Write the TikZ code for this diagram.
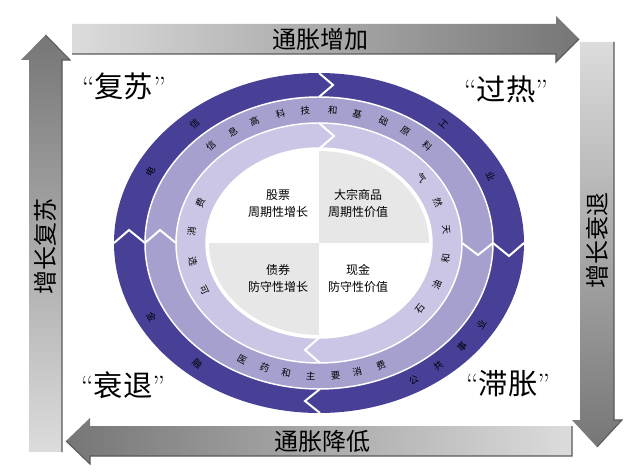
\documentclass[tikz,border=0pt]{standalone}
\usepackage{fontspec}
\newfontfamily\cjk{Noto Sans CJK SC}
\usepackage{tikz}

\definecolor{ringdark}{RGB}{72,64,150}
\definecolor{ringmid}{RGB}{166,160,207}
\definecolor{ringlight}{RGB}{203,198,229}
\definecolor{quadgray}{RGB}{231,231,231}
\definecolor{barlight}{RGB}{220,220,220}
\definecolor{bardark}{RGB}{118,118,118}

\newcommand{\phaselabel}[1]{{\rmfamily “}#1{\rmfamily ”}}

\begin{document}
\begin{tikzpicture}[x=0.75pt,y=0.75pt,yscale=-1,xscale=1,
  ringchar/.style={inner sep=0pt,font=\cjk\fontsize{7}{7}\selectfont},
  quadtext/.style={align=center,inner sep=0.75pt,font=\cjk\fontsize{9}{12.75}\selectfont},
  phasetext/.style={inner sep=0.75pt,font=\cjk\fontsize{22}{22}\selectfont},
  bartext/.style={inner sep=0.75pt,font=\cjk\fontsize{18}{18}\selectfont},
  ringsep/.style={draw=white,line width=1.1pt},
  chevron/.style={draw=white,line width=1.5pt},
  barshadow/.style={draw=black!65,line width=0.8pt}]
\useasboundingbox (0,0) rectangle (636,474);

%Shape: Arrow (top)
\shade [left color=barlight,right color=bardark] (72,24) -- (556,24) -- (556,16) -- (579,39) -- (556,62) -- (556,54) -- (72,54) -- cycle ;
\draw [barshadow] (72,54) -- (556,54) -- (556,62) -- (579,39) ;
%Shape: Arrow (right)
\shade [top color=barlight,bottom color=bardark] (580,42) -- (614,42) -- (614,420) -- (622,420) -- (597,447) -- (572,420) -- (580,420) -- cycle ;
\draw [barshadow] (614,42) -- (614,420) -- (622,420) -- (597,447) ;
%Shape: Arrow (bottom)
\shade [left color=bardark,right color=barlight] (572,426) -- (572,456) -- (90,456) -- (90,464) -- (66,441) -- (90,418) -- (90,426) -- cycle ;
\draw [barshadow] (66,441) -- (90,464) -- (90,456) -- (572,456) -- (572,426) ;
%Shape: Arrow (left)
\shade [top color=bardark,bottom color=barlight] (29,452) -- (29,60) -- (21,60) -- (45.5,35) -- (70,60) -- (62,60) -- (62,452) -- cycle ;
\draw [barshadow] (45.5,35) -- (70,60) -- (62,60) -- (62,452) ;

%Shape: Ellipse rings
\fill [ringdark] (319,243) ellipse [x radius=205, y radius=170] ;
\filldraw [ringsep,fill=ringmid] (319,243) ellipse [x radius=174, y radius=146] ;
\filldraw [ringsep,fill=ringlight] (319,243) ellipse [x radius=143, y radius=120] ;
\filldraw [ringsep,fill=white] (319,243) ellipse [x radius=113, y radius=95] ;
%Shape: Quadrants
\begin{scope}
\clip (319,243) ellipse [x radius=110, y radius=92] ;
\fill [quadgray] (319,243) rectangle (440,140) ;
\fill [quadgray] (319,243) rectangle (200,350) ;
\end{scope}

%Straight Lines: chevrons
\draw [chevron] (319,73) -- (333,85) -- (319,97) ;
\draw [chevron] (319,123) -- (334,136) -- (319,149) ;
\draw [chevron] (493,243) -- (509,256) -- (524,243) ;
\draw [chevron] (462,243) -- (478,255) -- (493,243) ;
\draw [chevron] (320,389) -- (305,401) -- (320,413) ;
\draw [chevron] (320,337) -- (305,350) -- (320,363) ;
\draw [chevron] (114,243) -- (129,230) -- (145,243) ;
\draw [chevron] (145,243) -- (160,230) -- (176,243) ;

% Text Node: outer ring
\foreach \ch/\t in {电/153,信/131,工/49,业/25,公/300,共/309,事/319,业/329,金/208,融/230}
  \draw ({319+189.5*cos(\t)},{243-158*sin(\t)}) node (outer-\t) [ringchar,rotate={mod(\t,180)-90}] {\ch} ;
% Text Node: middle ring
\foreach \ch/\t in {信/133,息/123,高/114,科/104,技/95,和/85,基/76,础/66,原/57,料/47,医/241,药/250,和/258,主/267,要/276,消/284,费/293}
  \draw ({319+158.5*cos(\t)},{243-133*sin(\t)}) node (middle-\t) [ringchar,rotate={mod(\t,180)-90}] {\ch} ;
% Text Node: inner ring
\foreach \ch/\t in {石/322,油/337,和/352,天/7,然/22,气/37,可/206,选/190,消/174,费/158}
  \draw ({319+128*cos(\t)},{243-107.5*sin(\t)}) node (inner-\t) [ringchar,rotate={mod(\t,180)-90}] {\ch} ;

% Text Node
\draw (278,203.5) node (stocks) [quadtext] {股票\\周期性增长} ;
% Text Node
\draw (358,203.5) node (commodities) [quadtext] {大宗商品\\周期性价值} ;
% Text Node
\draw (278,278.5) node (bonds) [quadtext] {债券\\防守性增长} ;
% Text Node
\draw (358,278.5) node (cash) [quadtext] {现金\\防守性价值} ;

% Text Node
\draw (124,86) node (recovery) [phasetext] {\phaselabel{复苏}} ;
% Text Node
\draw (506,89) node (overheat) [phasetext] {\phaselabel{过热}} ;
% Text Node
\draw (123,385) node (recession) [phasetext] {\phaselabel{衰退}} ;
% Text Node
\draw (508,384) node (stagflation) [phasetext] {\phaselabel{滞胀}} ;

% Text Node
\draw (320,39) node (influp) [bartext] {通胀增加} ;
% Text Node
\draw (322,441) node (infldown) [bartext] {通胀降低} ;
% Text Node
\draw (45.5,247) node (growthup) [bartext,rotate=90] {增长复苏} ;
% Text Node
\draw (597,241) node (growthdown) [bartext,rotate=90] {增长衰退} ;

\end{tikzpicture}
\end{document}
